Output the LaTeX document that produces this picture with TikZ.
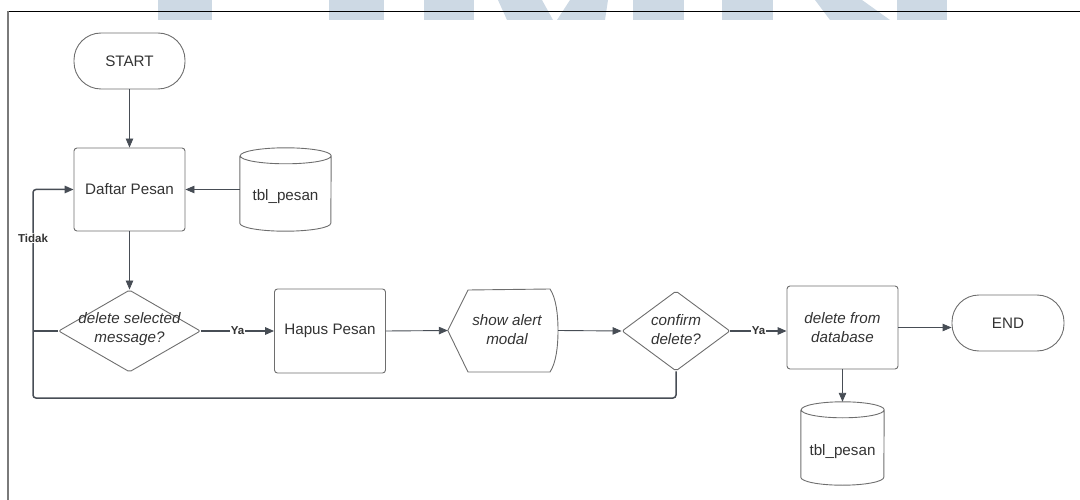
\documentclass[tikz,border=0pt]{standalone}
\usepackage{fontspec}
\setmainfont{Liberation Sans}
\usetikzlibrary{shapes.geometric, arrows.meta, calc}

\definecolor{wmark}{HTML}{CDD9E4}
\definecolor{border}{HTML}{6E6E6E}
\definecolor{conncol}{HTML}{474D55}
\definecolor{txt}{HTML}{333333}
\definecolor{frameside}{HTML}{7A7A7A}

\tikzset{
  base/.style={font=\fontsize{15.2pt}{18.5pt}\selectfont, text=txt, align=center, inner sep=0pt},
  itext/.style={base, font=\fontsize{15.2pt}{18.5pt}\selectfont\itshape},
  terminal/.style={base, draw=border, line width=0.9pt, rounded corners=27pt,
    minimum width=111pt, minimum height=56pt},
  process/.style={base, draw=border, line width=0.9pt, rounded corners=3pt,
    minimum width=111pt, minimum height=83pt},
  decision/.style={diamond, draw=border, line width=0.9pt, rounded corners=2pt, inner sep=0pt},
  store/.style={inner sep=0pt, minimum height=83pt},
  shapeline/.style={draw=border, line width=0.9pt, line join=round},
  conn/.style={draw=conncol, line width=0.9pt, -{Triangle[length=9pt, width=7.5pt]}},
  connthick/.style={conn, line width=1.5pt},
  loopline/.style={draw=conncol, line width=1.5pt, rounded corners=3pt},
  elabel/.style={font=\fontsize{11.5pt}{13pt}\selectfont\bfseries, text=txt, fill=white,
    inner sep=1pt},
}

\begin{document}
\begin{tikzpicture}[x=1pt, y=-1pt]
  \useasboundingbox (0,0) rectangle (1080,500);

  % faint letter strokes along the top edge
  \fill[wmark] (158,0) rectangle (212,20);
  \fill[wmark] (329,0) rectangle (384,20);
  \fill[wmark] (424,0) rectangle (474,20);
  \fill[wmark] (498,0) -- (542,0) -- (553,20) -- (507,20) -- cycle;
  \fill[wmark] (570,0) -- (608,0) -- (605,20) -- (557,20) -- cycle;
  \fill[wmark] (633,0) rectangle (684,20);
  \fill[wmark] (722,0) rectangle (773,20);
  \fill[wmark] (815,0) -- (862,0) -- (890,20) -- (830,20) -- cycle;
  \fill[wmark] (897,0) rectangle (947,20);

  % page frame
  \draw[black, line width=1pt] (8,11.3) -- (1080,11.3);
  \draw[frameside, line width=2.5pt] (8,11.3) -- (8,500);

  % nodes
  \node[terminal] (start) at (129.5,61) {START};
  \node[process] (daftar) at (129.5,189.5) {Daftar Pesan};

  \node[store, minimum width=91pt] (tbl1) at (285.5,189.5) {};
  \draw[shapeline] ($(tbl1.north west)+(0,8)$) -- ($(tbl1.south west)+(0,-8)$)
    arc[start angle=180, end angle=360, x radius=45.5pt, y radius=8pt]
    -- ($(tbl1.north east)+(0,8)$)
    arc[start angle=0, end angle=180, x radius=45.5pt, y radius=8pt]
    arc[start angle=180, end angle=360, x radius=45.5pt, y radius=8pt];
  \node[base] (tbl1text) at ($(tbl1.center)+(0,7)$) {tbl\_pesan};

  \node[decision, minimum width=142pt, minimum height=82pt] (dec1) at (129.5,331) {};
  \node[itext] (dec1text) at (129.5,329) {delete selected\\message?};

  \node[process, minimum height=84pt] (hapus) at (330,331) {Hapus Pesan};

  \node[inner sep=0pt, minimum width=110pt, minimum height=83pt] (alert) at (503,330.5) {};
  \draw[shapeline] (alert.west) -- (468,290) -- (550,289)
    .. controls (556,298) and (558,314) .. (558,330.5)
    .. controls (558,347) and (556,363) .. (550,372) -- (468,372) -- cycle;
  \node[itext] (alerttext) at (507,329.5) {show alert\\modal};

  \node[decision, minimum width=108pt, minimum height=80pt] (dec2) at (676,331) {};
  \node[itext] (dec2text) at (676,329.5) {confirm\\delete?};

  \node[process, font=\fontsize{15.2pt}{18.5pt}\selectfont\itshape] (del) at (842.5,327.5)
    {delete from\\database};
  \node[terminal, minimum width=112pt] (end) at (1008,323) {END};

  \node[store, minimum width=83pt] (tbl2) at (842.5,443.5) {};
  \draw[shapeline] ($(tbl2.north west)+(0,8)$) -- ($(tbl2.south west)+(0,-8)$)
    arc[start angle=180, end angle=360, x radius=41.5pt, y radius=8pt]
    -- ($(tbl2.north east)+(0,8)$)
    arc[start angle=0, end angle=180, x radius=41.5pt, y radius=8pt]
    arc[start angle=180, end angle=360, x radius=41.5pt, y radius=8pt];
  \node[base] (tbl2text) at ($(tbl2.center)+(0,8)$) {tbl\_pesan};

  % connectors
  \draw[conn] (start) -- (daftar);
  \draw[conn] (tbl1.west) -- (daftar.east);
  \draw[conn] (daftar) -- (dec1);
  \draw[connthick] (dec1.east) -- node[elabel] (ya1) {Ya} (hapus.west);
  \draw[conn] (hapus.east) -- (alert.west);
  \draw[conn] (alert.east) -- (dec2.west);
  \draw[connthick] (dec2.east) -- node[elabel] (ya2) {Ya} (dec2.east -| del.west);
  \draw[conn] (del.east) -- (del.east -| end.west);
  \draw[conn] (del.south) -- (tbl2.north);

  % return paths to the message list
  \coordinate (loopbl) at (33,398);
  \coordinate (looptl) at (33,189.5);
  \draw[loopline, -{Triangle[length=9pt, width=7.5pt]}]
    (dec2.south) |- (loopbl) -- (looptl) -- (daftar.west);
  \draw[loopline] (dec1.west) -- (dec1.west -| loopbl);
  \node[elabel] (tidak) at (33,238) {Tidak};
\end{tikzpicture}
\end{document}
